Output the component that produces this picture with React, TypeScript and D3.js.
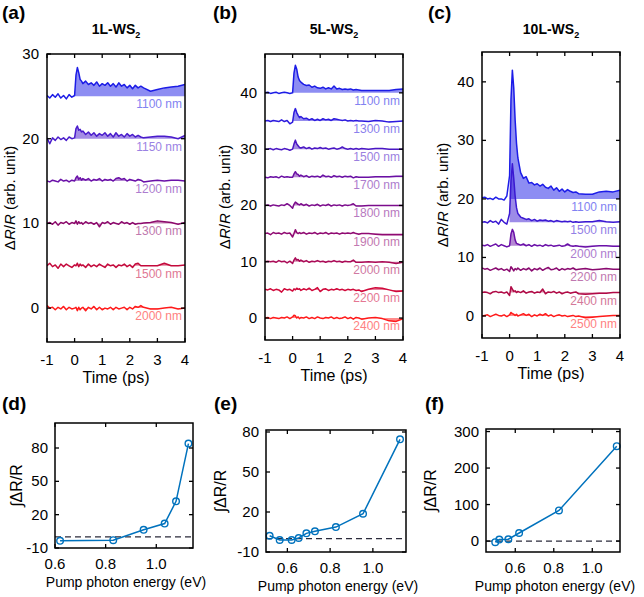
import React from "react";
import * as d3 from "d3";

// shared time axis (ps)
const T = [-1,-0.9,-0.8,-0.7,-0.6,-0.5,-0.4,-0.3,-0.2,-0.1,0,0.05,0.1,0.15,0.2,0.25,0.3,0.4,0.5,0.6,0.7,0.8,0.9,1.0,1.1,1.2,1.3,1.4,1.5,1.6,1.7,1.8,1.9,2.0,2.1,2.2,2.3,2.4,2.5,2.75,3.0,3.25,3.5,3.75,4.0];

// ---- panel (a) 1L-WS2 : ΔR/R minus offset ----
const A_LABELS = ["1100 nm","1150 nm","1200 nm","1300 nm","1500 nm","2000 nm"];
const A_OFFSETS = [25,20,15,10,5,0];
const A_1100 = [0.1,-0.2,0.2,-0.1,0.3,-0.2,0.1,-0.3,0.2,-0.1, 0.1,2.5,3.4,2.8,2.0,1.8,1.5, 1.8,1.4,1.6,1.3,1.7,1.2,1.5,1.3,1.6,1.2,1.5,1.1,1.6,1.2,1.4,1.0,1.3,0.9,1.3,1.0,1.2,1.0, 0.6,0.8,1.0,1.1,1.2,1.4];
const A_1150 = [0.1,-0.6,0.1,-0.2,0.2,-0.1,0.1,-0.2,0.2,0.0, 0.1,1.2,1.5,1.0,1.1,0.8,0.9, 0.5,0.8,0.4,0.7,0.3,0.6,0.4,0.7,0.3,0.6,0.2,0.7,0.3,0.5,0.2,0.6,0.3,0.5,0.2,0.4,0.2,0.1, 0.2,0.3,0.3,0.2,0.0,0.4];
const A_1200 = [0.0,-0.1,0.1,0.0,-0.1,0.2,0.0,0.1,-0.1,0.1, 0.0,0.4,0.6,0.2,0.4,0.1,0.3, 0.1,0.3,0.0,0.2,0.1,0.3,0.0,0.2,0.1,0.2,0.0,0.3,0.4,0.2,0.3,0.0,0.2,0.1,0.0,0.2,0.1,-0.1, 0.0,0.1,0.0,0.1,0.1,0.0];
const A_1300 = [0.0,0.1,-0.1,0.2,-0.2,0.1,0.0,0.2,-0.1,0.1, 0.0,0.3,-0.1,0.2,0.0,0.1,-0.1, 0.2,0.0,0.1,-0.1,0.1,-0.4,0.1,0.0,0.2,-0.1,0.1,0.0,-0.1,0.2,0.0,0.1,-0.1,0.1,-0.1,0.0,0.0,0.05, 0.1,0.3,0.2,0.1,-0.1,0.1];
const A_1500 = [0.0,0.3,-0.1,0.1,-0.3,0.2,-0.1,0.2,0.0,-0.2, 0.1,0.0,0.3,-0.1,0.2,0.0,0.1, -0.2,0.2,-0.1,0.1,-0.1,0.2,0.0,-0.2,0.2,0.0,0.1,-0.2,0.1,0.0,0.2,-0.1,0.1,-0.2,0.2,0.3,0.0,0.0, 0.0,0.0,0.3,0.0,0.0,0.1];
const A_2000 = [0.3,0.0,0.1,-0.2,0.1,-0.1,0.2,-0.2,0.1,-0.1, 0.0,0.1,-0.3,0.1,-0.2,0.0,0.1, -0.3,0.1,-0.1,0.2,-0.2,0.1,-0.2,0.0,-0.1,0.1,-0.2,0.1,-0.1,0.0,0.1,-0.2,0.1,-0.1,0.2,0.1,0.3,0.1, -0.1,-0.1,0.0,0.1,-0.1,0.0];

// ---- panel (b) 5L-WS2 ----
const B_LABELS = ["1100 nm","1300 nm","1500 nm","1700 nm","1800 nm","1900 nm","2000 nm","2200 nm","2400 nm"];
const B_OFFSETS = [40,35,30,25,20,15,10,5,0];
const B_1100 = [0.0,0.1,-0.1,0.0,0.1,-0.1,0.0,0.1,0.0,-0.1, 0.0,3.5,4.9,4.2,2.8,2.2,1.9, 1.5,1.3,1.4,1.0,1.2,0.9,0.8,1.0,0.7,0.9,0.7,1.2,0.7,0.8,0.6,0.7,0.6,0.7,0.5,0.6,0.5,0.4, 0.4,0.4,0.4,0.4,0.6,0.7];
const B_1300 = [0.0,0.1,-0.1,0.1,0.0,-0.1,0.2,-0.1,0.1,-0.5, -0.2,1.5,2.2,1.5,1.0,0.6,0.8, 0.4,0.5,0.2,0.4,0.1,0.3,0.1,0.4,0.2,0.3,0.1,0.4,0.3,0.2,0.1,0.2,0.0,0.1,0.0,0.1,0.0,0.0, -0.1,0.1,0.0,-0.2,-0.1,0.0];
const B_1500 = [0.0,0.0,0.1,-0.1,0.1,0.0,-0.1,0.1,0.0,-0.2, 0.0,0.9,1.6,0.9,0.6,0.3,0.2, 0.4,0.1,0.3,0.0,0.2,0.1,0.3,0.1,0.2,0.0,0.1,0.2,0.0,0.1,0.4,0.1,0.0,0.1,0.0,0.1,0.0,0.1, 0.0,0.1,0.1,0.0,0.0,0.0];
const B_1700 = [0.0,-0.1,0.1,0.0,0.1,-0.1,0.2,0.0,0.1,0.0, 0.0,0.6,1.0,0.6,0.5,0.2,0.4, 0.1,0.3,0.0,0.2,0.1,0.2,0.0,0.4,0.1,0.2,0.0,0.3,0.1,0.2,0.0,0.2,0.1,0.2,-0.1,0.1,0.0,0.0, 0.0,0.1,0.1,0.1,0.2,0.2];
const B_1800 = [0.0,0.1,-0.1,0.1,0.0,-0.1,0.1,0.0,0.3,0.0, -0.5,0.2,0.6,0.4,0.2,0.1,0.3, 0.0,0.2,-0.1,0.1,0.0,0.2,-0.1,0.1,0.0,0.2,-0.1,0.1,0.0,0.1,-0.1,0.1,0.0,0.1,0.3,-0.1,-0.1,-0.1, 0.0,0.0,0.0,0.0,0.0,0.0];
const B_1900 = [0.0,0.1,-0.2,0.2,0.0,0.1,-0.1,0.2,0.0,0.1, -0.6,0.0,0.7,0.2,0.0,0.2,0.0, 0.2,-0.1,0.1,0.0,0.2,-0.1,0.1,0.0,0.2,-0.1,0.1,0.0,0.1,-0.1,0.1,0.0,0.1,0.0,0.2,0.0,-0.1,0.0, 0.0,-0.1,-0.2,-0.2,-0.2,-0.2];
const B_2000 = [0.0,0.1,0.0,0.1,-0.1,0.2,0.0,0.1,-0.2,0.1, -0.3,0.3,0.7,0.3,0.4,0.1,0.3, 0.0,0.2,-0.1,0.1,0.0,0.2,0.0,0.1,-0.1,0.1,0.0,0.2,0.0,0.1,-0.1,0.1,0.0,0.0,0.3,-0.1,-0.1,-0.1, 0.0,-0.1,0.0,-0.1,-0.3,-0.1];
const B_2200 = [0.1,0.0,0.2,-0.1,0.1,0.0,-0.4,0.2,0.0,0.1, -0.2,0.2,0.0,0.3,0.1,0.2,-0.1, 0.2,0.0,0.3,-0.1,0.1,0.4,-0.3,0.1,0.2,-0.1,0.1,0.0,0.2,0.0,0.1,-0.1,0.1,0.0,0.1,-0.1,0.0,-0.3, 0.1,0.4,0.3,0.0,-0.3,-0.2];
const B_2400 = [0.0,0.1,-0.1,0.1,0.0,-0.1,0.1,0.0,0.2,-0.1, 0.2,0.5,0.4,0.0,0.2,-0.1,0.1, 0.0,0.2,-0.1,0.1,-0.1,0.2,0.0,-0.1,0.1,0.0,0.2,-0.1,0.1,-0.1,0.0,0.2,-0.1,0.1,-0.2,0.1,0.0,-0.2, 0.0,0.1,-0.1,-0.5,-0.6,-0.1];

// ---- panel (c) 10L-WS2 ----
const C_LABELS = ["1100 nm","1500 nm","2000 nm","2200 nm","2400 nm","2500 nm"];
const C_OFFSETS = [20,16,12,8,4,0];
const C_1100 = [0.2,0.3,0.0,0.1,-0.1,0.3,0.0,0.0,-0.2,0.5, 4.0,17.0,22.0,19.0,13.5,9.5,7.0, 4.5,3.5,3.8,2.7,2.8,2.4,2.6,2.2,2.5,2.0,1.8,2.2,1.5,1.9,1.3,1.7,1.2,1.6,1.3,1.1,1.2,0.9, 0.8,0.8,1.2,1.3,1.2,1.5];
const C_1500 = [0.0,0.1,-0.1,0.3,0.0,0.2,-0.3,0.5,0.0,-0.3, 1.5,7.0,10.0,7.5,4.5,2.5,1.5, 0.9,0.7,0.5,0.6,0.3,0.5,0.2,0.4,0.3,0.4,0.2,0.3,0.1,0.3,0.2,0.1,0.2,0.1,0.2,0.0,0.1,0.0, 0.1,0.1,0.3,0.1,0.0,0.1];
const C_2000 = [0.1,0.0,0.2,-0.1,0.1,0.3,-0.1,0.2,0.0,-0.2, 0.0,2.0,2.8,2.3,1.0,0.4,0.3, 0.1,0.3,0.0,0.2,-0.1,0.2,0.0,0.1,-0.1,0.2,0.0,0.1,-0.1,0.0,0.1,-0.1,0.0,0.3,0.0,-0.1,0.0,-0.1, -0.2,-0.1,0.0,0.0,-0.1,-0.1];
const C_2200 = [0.2,0.0,0.1,-0.2,0.0,0.2,-0.1,0.1,-0.2,0.0, -0.4,0.4,0.1,-0.3,0.1,-0.1,0.2, -0.2,0.1,-0.1,0.2,-0.3,0.1,-0.1,0.2,-0.2,0.1,0.3,-0.1,0.0,0.2,-0.2,0.1,-0.1,0.1,0.0,0.2,-0.1,0.0, 0.1,-0.1,0.0,0.1,0.0,0.0];
const C_2400 = [0.0,0.1,0.0,-0.2,0.1,0.2,0.0,0.1,-0.1,0.1, -0.5,1.0,0.6,0.2,0.3,0.0,0.2, 0.0,0.3,-0.1,0.1,0.2,-0.1,0.1,0.0,0.6,-0.2,0.1,0.0,0.2,-0.1,0.1,-0.2,0.0,0.1,-0.1,0.0,0.1,-0.2, -0.3,-0.2,-0.1,-0.1,0.0,0.0];
const C_2500 = [0.0,0.1,0.2,-0.1,0.1,0.3,0.1,0.0,0.2,-0.1, 0.2,0.6,0.4,0.3,0.1,0.3,0.0, 0.2,0.4,0.1,0.3,-0.1,0.2,0.0,0.3,0.1,0.4,0.0,0.2,-0.1,0.1,0.2,0.0,0.1,-0.1,0.0,0.1,-0.1,0.0, -0.3,-0.2,-0.1,0.0,0.1,0.1];

// ---- bottom panels: integrated ΔR/R vs pump photon energy ----
const D_ENERGY = [0.62, 0.83, 0.95, 1.033, 1.078, 1.127];
const D_VALUE = [-3.5, -3, 6.4, 12, 32, 84];
const E_ENERGY = [0.517, 0.564, 0.62, 0.653, 0.689, 0.729, 0.827, 0.954, 1.127];
const E_VALUE = [2.2, -1, -1, 0.5, 4, 5.5, 8.7, 18.7, 74.5];
const F_ENERGY = [0.496, 0.517, 0.564, 0.62, 0.827, 1.127];
const F_VALUE = [-3, 4, 5, 22, 84, 260];

const TIME_TICKS = [-1, 0, 1, 2, 3, 4];
const ENERGY_TICKS = [0.6, 0.8, 1.0];

const FONT = "'Liberation Sans', Arial, Helvetica, sans-serif";

type Trace = { vals: number[]; off: number; color: string; label: string };

function TopPanel(props: {
  id: string; letter: string; title: string; lx: number; labelX: number;
  x0: number; x1: number; y0: number; y1: number; ydom: [number, number];
  yticks: number[]; traces: Trace[]; labelDy: number;
}) {
  const p = props;
  const x = d3.scaleLinear().domain([-1, 4]).range([p.x0, p.x1]);
  const y = d3.scaleLinear().domain(p.ydom).range([p.y1, p.y0]);
  const tl = 4;
  return (
    <g fontFamily={FONT}>
      <text x={p.lx} y={19} fontSize={19} fontWeight="bold">{p.letter}</text>
      <text x={(p.x0 + p.x1) / 2} y={34} fontSize={14} fontWeight="bold" textAnchor="middle">
        {p.title}<tspan fontSize={9} dy={4}>2</tspan>
      </text>
      <defs>
        <clipPath id={"clip" + p.id}>
          <rect x={p.x0} y={p.y0} width={p.x1 - p.x0} height={p.y1 - p.y0} />
        </clipPath>
      </defs>
      <g clipPath={`url(#clip${p.id})`}>
        {p.traces.map((tr, k) => {
          const area = d3.area<number>()
            .defined((_, i) => T[i] >= 0)
            .x((_, i) => x(T[i]))
            .y0(() => y(tr.off))
            .y1((d) => y(tr.off + d));
          return <path key={"a" + k} d={area(tr.vals) || ""} fill={tr.color} fillOpacity={0.5} stroke="none" />;
        })}
        {p.traces.map((tr, k) => {
          const line = d3.line<number>().x((_, i) => x(T[i])).y((d) => y(tr.off + d));
          return <path key={"l" + k} d={line(tr.vals) || ""} fill="none" stroke={tr.color} strokeWidth={1.5} strokeLinejoin="round" />;
        })}
      </g>
      {p.traces.map((tr, k) => (
        <text key={"t" + k} x={p.x1 - 3} y={y(tr.off) + p.labelDy} fontSize={12} textAnchor="end"
          fill={d3.interpolateRgb(tr.color, "#ffffff")(0.45)}>{tr.label}</text>
      ))}
      <rect x={p.x0} y={p.y0} width={p.x1 - p.x0} height={p.y1 - p.y0} fill="none" stroke="#000" strokeWidth={1.5} />
      {TIME_TICKS.map((t) => (
        <g key={"xt" + t}>
          <line x1={x(t)} x2={x(t)} y1={p.y1} y2={p.y1 - tl} stroke="#000" strokeWidth={1.3} />
          <line x1={x(t)} x2={x(t)} y1={p.y0} y2={p.y0 + tl} stroke="#000" strokeWidth={1.3} />
          <text x={x(t)} y={p.y1 + 23} fontSize={15} textAnchor="middle">{t}</text>
        </g>
      ))}
      {p.yticks.map((v) => (
        <g key={"yt" + v}>
          <line x1={p.x0} x2={p.x0 + tl} y1={y(v)} y2={y(v)} stroke="#000" strokeWidth={1.3} />
          <line x1={p.x1} x2={p.x1 - tl} y1={y(v)} y2={y(v)} stroke="#000" strokeWidth={1.3} />
          <text x={p.x0 - 8} y={y(v) + 5} fontSize={15} textAnchor="end">{v}</text>
        </g>
      ))}
      <text x={(p.x0 + p.x1) / 2} y={p.y1 + 41} fontSize={16} textAnchor="middle">Time (ps)</text>
      <text transform={`translate(${p.labelX},${(p.y0 + p.y1) / 2}) rotate(-90)`} fontSize={15} textAnchor="middle">
        Δ<tspan fontStyle="italic">R</tspan>/<tspan fontStyle="italic">R</tspan> (arb. unit)
      </text>
    </g>
  );
}

function BottomPanel(props: {
  id: string; letter: string; lx: number; labelX: number;
  x0: number; x1: number; y0: number; y1: number;
  xdom: [number, number]; ydom: [number, number]; yticks: number[];
  ex: number[]; vy: number[];
}) {
  const p = props;
  const x = d3.scaleLinear().domain(p.xdom).range([p.x0, p.x1]);
  const y = d3.scaleLinear().domain(p.ydom).range([p.y1, p.y0]);
  const tl = 4;
  const pts = p.ex.map((e, i) => [x(e), y(p.vy[i])] as [number, number]);
  const line = d3.line();
  const blue = "#0072BD";
  return (
    <g fontFamily={FONT}>
      <text x={p.lx} y={410} fontSize={19} fontWeight="bold">{p.letter}</text>
      <line x1={p.x0} x2={p.x1} y1={y(0)} y2={y(0)} stroke="#2b2b3b" strokeWidth={1.3} strokeDasharray="6,4" />
      <path d={line(pts) || ""} fill="none" stroke={blue} strokeWidth={1.5} />
      {pts.map((pt, i) => (
        <circle key={i} cx={pt[0]} cy={pt[1]} r={3.3} fill="none" stroke={blue} strokeWidth={1.4} />
      ))}
      <rect x={p.x0} y={p.y0} width={p.x1 - p.x0} height={p.y1 - p.y0} fill="none" stroke="#000" strokeWidth={1.5} />
      {ENERGY_TICKS.map((t) => (
        <g key={"xt" + t}>
          <line x1={x(t)} x2={x(t)} y1={p.y1} y2={p.y1 - tl} stroke="#000" strokeWidth={1.3} />
          <line x1={x(t)} x2={x(t)} y1={p.y0} y2={p.y0 + tl} stroke="#000" strokeWidth={1.3} />
          <text x={x(t)} y={p.y1 + 21} fontSize={15} textAnchor="middle">{d3.format(".1f")(t)}</text>
        </g>
      ))}
      {p.yticks.map((v) => (
        <g key={"yt" + v}>
          <line x1={p.x0} x2={p.x0 + tl} y1={y(v)} y2={y(v)} stroke="#000" strokeWidth={1.3} />
          <line x1={p.x1} x2={p.x1 - tl} y1={y(v)} y2={y(v)} stroke="#000" strokeWidth={1.3} />
          <text x={p.x0 - 7} y={y(v) + 5} fontSize={15} textAnchor="end">{v}</text>
        </g>
      ))}
      <text x={(p.x0 + p.x1) / 2 + 2} y={p.y1 + 39} fontSize={14} textAnchor="middle">Pump photon energy (eV)</text>
      <text transform={`translate(${p.labelX},${(p.y0 + p.y1) / 2}) rotate(-90)`} fontSize={16} textAnchor="middle">∫ΔR/R</text>
    </g>
  );
}

const A_COLORS = ["#1c1ce6", "#4a1ccc", "#6a10a8", "#8c0a6c", "#c40a3c", "#ff1a1a"];
const B_COLORS = ["#1c1ce6", "#2c1ade", "#4a16c4", "#6a10a4", "#7c0c8c", "#900a72", "#aa0a56", "#d0083a", "#ff1a1a"];
const C_COLORS = ["#1c1ce8", "#3a18d2", "#6a10a8", "#8a0a70", "#b00a46", "#ff1a1a"];

export default function App() {
  const aVals = [A_1100, A_1150, A_1200, A_1300, A_1500, A_2000];
  const bVals = [B_1100, B_1300, B_1500, B_1700, B_1800, B_1900, B_2000, B_2200, B_2400];
  const cVals = [C_1100, C_1500, C_2000, C_2200, C_2400, C_2500];
  const mk = (vals: number[][], offs: number[], cols: string[], labs: string[]): Trace[] =>
    vals.map((v, i) => ({ vals: v, off: offs[i], color: cols[i], label: labs[i] }));
  return (
    <svg width={644} height={597} style={{ position: "absolute", left: 0, top: 0, background: "#fff" }}>
      <rect width={644} height={597} fill="#fff" />
      <TopPanel id="a" letter="(a)" title="1L-WS" lx={2} labelX={15} x0={47} x1={185} y0={54} y1={342}
        ydom={[-4, 30]} yticks={[0, 10, 20, 30]} traces={mk(aVals, A_OFFSETS, A_COLORS, A_LABELS)} labelDy={12} />
      <TopPanel id="b" letter="(b)" title="5L-WS" lx={213} labelX={230} x0={265} x1={403} y0={54} y1={340}
        ydom={[-3.9, 46.9]} yticks={[0, 10, 20, 30, 40]} traces={mk(bVals, B_OFFSETS, B_COLORS, B_LABELS)} labelDy={12} />
      <TopPanel id="c" letter="(c)" title="10L-WS" lx={428} labelX={448} x0={482} x1={620} y0={52} y1={338}
        ydom={[-3.76, 45.1]} yticks={[0, 10, 20, 30, 40]} traces={mk(cVals, C_OFFSETS, C_COLORS, C_LABELS)} labelDy={12} />
      <BottomPanel id="d" letter="(d)" lx={2} labelX={22} x0={55} x1={193} y0={423} y1={548}
        xdom={[0.6, 1.145]} ydom={[-10, 102.5]} yticks={[-10, 20, 50, 80]} ex={D_ENERGY} vy={D_VALUE} />
      <BottomPanel id="e" letter="(e)" lx={214} labelX={226} x0={266} x1={406} y0={430} y1={552}
        xdom={[0.5, 1.155]} ydom={[-10, 81.5]} yticks={[-10, 20, 50, 80]} ex={E_ENERGY} vy={E_VALUE} />
      <BottomPanel id="f" letter="(f)" lx={425} labelX={436} x0={486} x1={620} y0={429} y1={552}
        xdom={[0.448, 1.144]} ydom={[-30, 307]} yticks={[0, 100, 200, 300]} ex={F_ENERGY} vy={F_VALUE} />
    </svg>
  );
}
